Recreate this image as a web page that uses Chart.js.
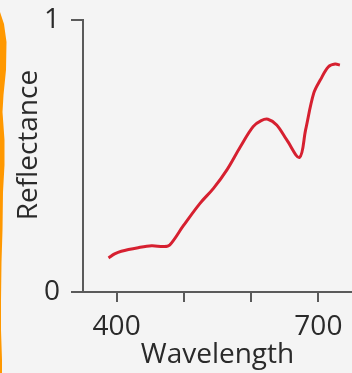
<!DOCTYPE html>
<html>
<head>
<meta charset="utf-8">
<script src="https://cdn.jsdelivr.net/npm/chart.js@4/dist/chart.umd.min.js"></script>
<style>
  html, body { margin: 0; padding: 0; background: #f4f4f4; }
  #wrap { position: relative; width: 352px; height: 373px; }
</style>
</head>
<body>
<div id="wrap"><canvas id="spectrum"></canvas></div>
<script>
// reflectance curve, wavelength in nm
const wavelengths = [388, 397, 407, 432, 452, 470, 479, 499, 524, 544, 564, 584, 603, 615, 625, 638, 653, 672, 681, 693, 703, 715, 725, 732];
const reflectance = [0.125, 0.140, 0.150, 0.163, 0.170, 0.167, 0.173, 0.243, 0.326, 0.381, 0.449, 0.534, 0.608, 0.630, 0.635, 0.614, 0.559, 0.495, 0.596, 0.730, 0.780, 0.828, 0.838, 0.834];

const xTicks = [400, 500, 600, 700];
const xTickLabels = {400: '400', 700: '700'};
const yTicks = [0, 1];

const axisGrey = '#5a5a5a';
const font = {family: '"Open Sans", sans-serif', size: 28};

// orange page edge on the left
const edgeStrip = {
  id: 'edgeStrip',
  beforeDraw(chart) {
    const ctx = chart.ctx;
    const edge = [[0, 12], [4, 24], [6.5, 42], [6, 70], [3.5, 95], [2.5, 112], [4.5, 140], [4.5, 165], [3, 192], [2.5, 230], [1.5, 262], [1, 300], [1, 330], [2, 360], [2, 373]];
    ctx.save();
    ctx.fillStyle = 'rgb(255,152,0)';
    ctx.beginPath();
    ctx.moveTo(0, 12);
    edge.forEach(([x, y]) => ctx.lineTo(x, y));
    ctx.lineTo(0, 373);
    ctx.closePath();
    ctx.fill();
    ctx.restore();
  }
};

new Chart(document.getElementById('spectrum'), {
  type: 'line',
  data: {
    datasets: [{
      data: wavelengths.map((w, i) => ({x: w, y: reflectance[i]})),
      borderColor: 'rgb(214,32,48)',
      borderWidth: 3,
      pointRadius: 0,
      tension: 0.35,
      fill: false
    }]
  },
  options: {
    responsive: true,
    maintainAspectRatio: false,
    animation: false,
    layout: {padding: {top: 20, right: 0, left: 0, bottom: 0}},
    plugins: {legend: {display: false}, tooltip: {enabled: false}},
    scales: {
      x: {
        type: 'linear',
        min: 350,
        max: 750,
        afterBuildTicks: s => { s.ticks = xTicks.map(v => ({value: v})); },
        afterFit: s => { s.height = 81; },
        grid: {drawOnChartArea: false, drawTicks: true, tickLength: 10, color: axisGrey, lineWidth: 2},
        border: {color: axisGrey, width: 2},
        ticks: {
          color: '#2a2a2a',
          font: font,
          padding: 8,
          maxRotation: 0,
          autoSkip: false,
          callback: v => xTickLabels[v] || ''
        },
        title: {display: true, text: 'Wavelength', color: '#2a2a2a', font: font, padding: {top: 0, bottom: 1}}
      },
      y: {
        min: 0,
        max: 1,
        afterBuildTicks: s => { s.ticks = yTicks.map(v => ({value: v})); },
        afterFit: s => { s.width = 83; s.paddingTop = 0; s.paddingBottom = 0; },
        grid: {drawOnChartArea: false, drawTicks: true, tickLength: 12, color: axisGrey, lineWidth: 2},
        border: {color: axisGrey, width: 2},
        ticks: {color: '#2a2a2a', font: font, padding: 11, callback: v => String(v)},
        // leading spaces lift the rotated title a little above the axis middle
        title: {display: true, text: '   Reflectance', color: '#2a2a2a', font: font, padding: {top: 12, bottom: 0}}
      }
    }
  },
  plugins: [edgeStrip]
});
</script>
</body>
</html>
